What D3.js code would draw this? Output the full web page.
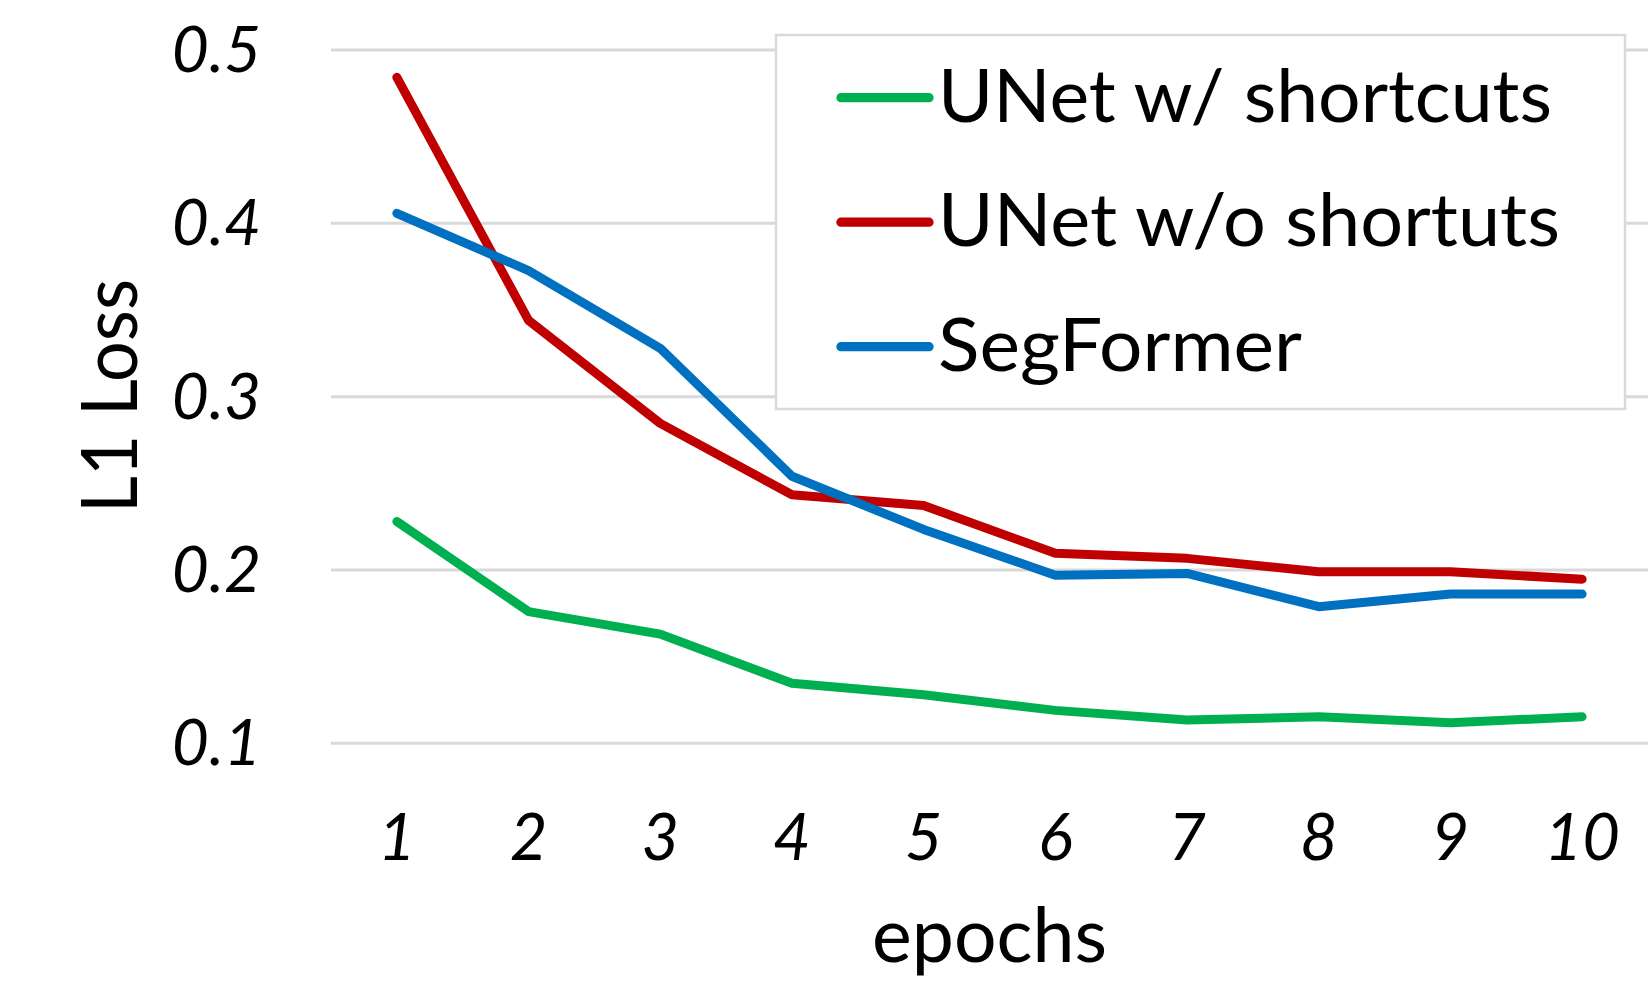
<!DOCTYPE html>
<html>
<head>
<meta charset="utf-8">
<script src="https://cdn.jsdelivr.net/npm/d3@7"></script>
<style>
  html, body { margin: 0; padding: 0; background: #fff; }
  svg { display: block; }
  text { font-family: Lato, "Open Sans", "DejaVu Sans", sans-serif; fill: #000; }
</style>
</head>
<body>
<svg id="chart" width="1650" height="990"></svg>
<script>
const epochs = [1, 2, 3, 4, 5, 6, 7, 8, 9, 10];
const unetWithShortcuts = [0.228, 0.176, 0.163, 0.1346, 0.128, 0.119, 0.1134, 0.1153, 0.1118, 0.1153];
const unetWithoutShortcuts = [0.4842, 0.344, 0.2846, 0.2434, 0.2372, 0.2096, 0.2067, 0.199, 0.199, 0.1947];
const segFormer = [0.4058, 0.3727, 0.3279, 0.2541, 0.2234, 0.197, 0.198, 0.1788, 0.1861, 0.1861];
const seriesNames = ["UNet w/ shortcuts", "UNet w/o shortuts", "SegFormer"];
const seriesColors = ["#00B050", "#C00000", "#0070C0"];
const yTicks = [0.1, 0.2, 0.3, 0.4, 0.5];
const xTitle = "epochs";
const yTitle = "L1 Loss";

const series = [unetWithShortcuts, unetWithoutShortcuts, segFormer].map((vals, i) => ({
  name: seriesNames[i], color: seriesColors[i],
  values: vals.map((v, j) => ({ epoch: epochs[j], value: v }))
}));

const svg = d3.select("#chart");
const plot = { left: 331, right: 1648, top: 50, bottom: 743.3 };

const x = d3.scaleBand().domain(epochs).range([plot.left, plot.right]).padding(0);
const xc = d => x(d) + x.bandwidth() / 2;
const y = d3.scaleLinear().domain([0.1, 0.5]).range([plot.bottom, plot.top]);

// gridlines
svg.append("g").selectAll("line").data(yTicks).join("line")
  .attr("x1", plot.left).attr("x2", plot.right)
  .attr("y1", d => y(d)).attr("y2", d => y(d))
  .attr("stroke", "#D9D9D9").attr("stroke-width", 3);

// y tick labels
svg.append("g").selectAll("text").data(yTicks).join("text")
  .attr("x", 261).attr("y", d => y(d) + 22)
  .attr("text-anchor", "end")
  .style("font-style", "italic").style("font-size", "64px")
  .text(d => d3.format(".1f")(d));

// x tick labels
svg.append("g").selectAll("text").data(epochs).join("text")
  .attr("x", d => xc(d)).attr("y", 860)
  .attr("text-anchor", "middle")
  .style("font-style", "italic").style("font-size", "65px")
  .text(d => d);

// axis titles
svg.append("text")
  .attr("x", (plot.left + plot.right) / 2).attr("y", 961.7)
  .attr("text-anchor", "middle").style("font-size", "76px")
  .attr("textLength", 235).attr("lengthAdjust", "spacingAndGlyphs")
  .text(xTitle);

svg.append("text")
  .attr("transform", "translate(137,396) rotate(-90)")
  .attr("text-anchor", "middle").style("font-size", "77px")
  .attr("textLength", 234).attr("lengthAdjust", "spacingAndGlyphs")
  .text(yTitle);

// legend box
const legend = svg.append("g");
legend.append("rect")
  .attr("x", 776).attr("y", 35).attr("width", 849).attr("height", 374)
  .attr("fill", "#fff").attr("stroke", "#D9D9D9").attr("stroke-width", 2.5);

const legendTextLengths = [614, 622, 364];
const legendRows = legend.selectAll("g.row").data(series).join("g")
  .attr("class", "row")
  .attr("transform", (d, i) => `translate(0, ${97.7 + i * 124.5})`);
legendRows.append("line")
  .attr("x1", 841).attr("x2", 929).attr("y1", 0).attr("y2", 0)
  .attr("stroke", d => d.color).attr("stroke-width", 9.3).attr("stroke-linecap", "round");
legendRows.append("text")
  .attr("x", 938).attr("y", 24)
  .style("font-size", "73px")
  .attr("textLength", (d, i) => legendTextLengths[i]).attr("lengthAdjust", "spacingAndGlyphs")
  .text(d => d.name);

// lines
const line = d3.line().x(d => xc(d.epoch)).y(d => y(d.value));
svg.append("g").selectAll("path").data(series).join("path")
  .attr("d", d => line(d.values))
  .attr("fill", "none")
  .attr("stroke", d => d.color)
  .attr("stroke-width", 9)
  .attr("stroke-linejoin", "round")
  .attr("stroke-linecap", "round");
</script>
</body>
</html>
